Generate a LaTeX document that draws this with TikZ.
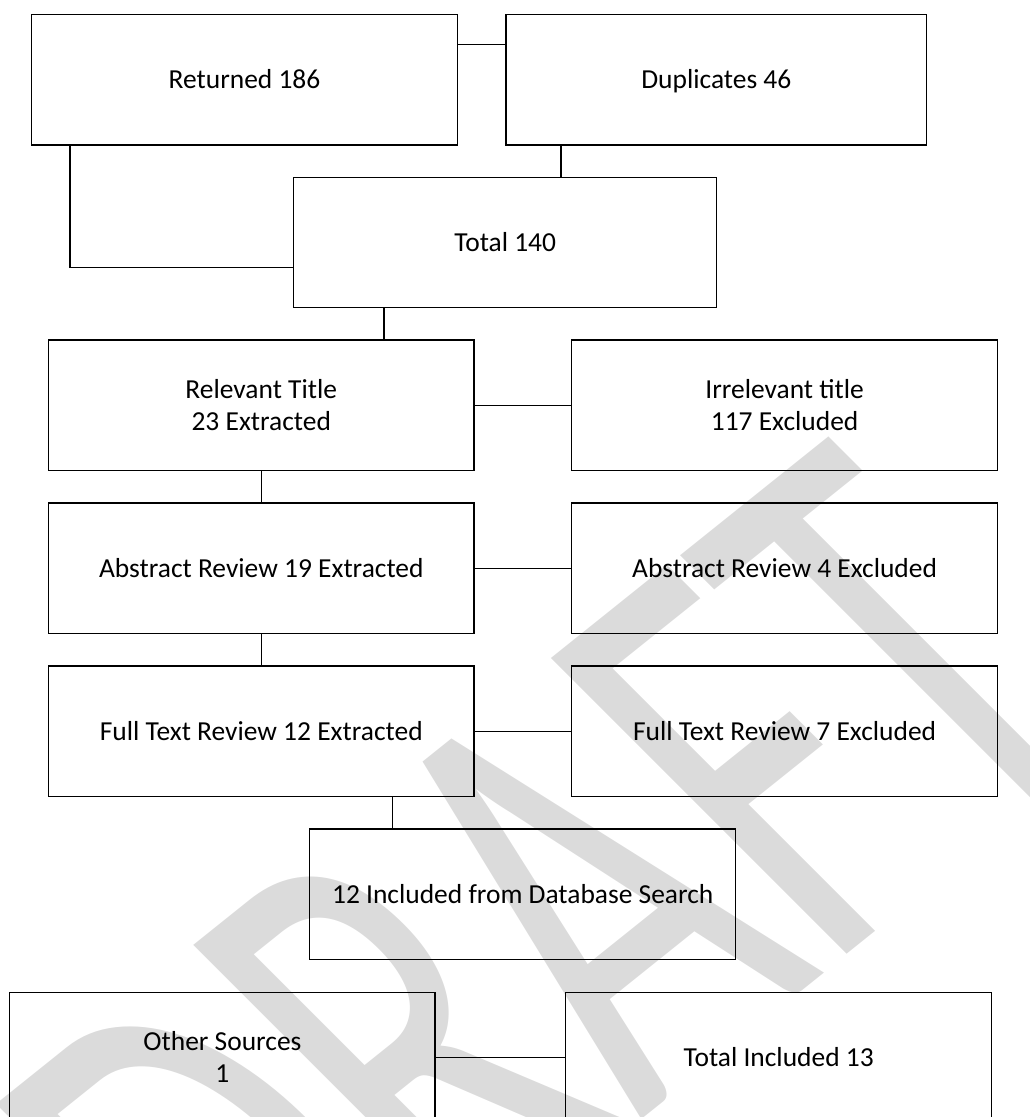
\documentclass[tikz,border=0pt]{standalone}
\usepackage{fontspec}
\setmainfont{Carlito}
\definecolor{wm}{RGB}{219,219,219}
\newcommand{\mystrut}{\rule[-3.8pt]{0pt}{20.8pt}}
\begin{document}
\begin{tikzpicture}[x=0.75pt,y=-0.75pt,
  box/.style={draw=black, line width=1pt, rectangle, inner sep=0pt, align=center,
    minimum height=98pt, font=\fontsize{20.6}{23.8}\selectfont},
  conn/.style={draw=black, line width=1pt}]
\useasboundingbox (0,0) rectangle (1029,1117);
\clip (0,0) rectangle (1029,1117);
% watermark
\node[anchor=base west, inner sep=0pt, outer sep=0pt, text=wm,
  cm={0.4906,0.3931,-0.707,0.707,(0,0)},
  font=\fontsize{489}{489}\selectfont] (wmk) at (270,1417) {DRAFT};
% boxes
\node[box, minimum width=319.2pt] (ret) at (244.5,79.5) {\mystrut Returned 186};
\node[box, minimum width=315.5pt] (dup) at (716.35,79.5) {\mystrut Duplicates 46};
\node[box, minimum width=317.3pt, minimum height=97.2pt] (tot) at (505.2,242.5) {\mystrut Total 140};
\node[box, minimum width=319pt] (rel) at (261.25,405.35) {\mystrut Relevant Title\\\mystrut 23 Extracted};
\node[box, minimum width=319.5pt] (irr) at (784.6,405.35) {\mystrut Irrelevant title\\\mystrut 117 Excluded};
\node[box, minimum width=319pt] (abs) at (261.25,568.35) {\mystrut Abstract Review 19 Extracted};
\node[box, minimum width=319.5pt] (absx) at (784.6,568.35) {\mystrut Abstract Review 4 Excluded};
\node[box, minimum width=319pt] (ful) at (261.25,731.35) {\mystrut Full Text Review 12 Extracted};
\node[box, minimum width=319.5pt] (fulx) at (784.6,731.35) {\mystrut Full Text Review 7 Excluded};
\node[box, minimum width=319.4pt] (inc) at (522.75,894.35) {\mystrut 12 Included from Database Search};
\node[box, minimum width=319pt] (oth) at (222.45,1057.65) {\mystrut Other Sources\\\mystrut 1};
\node[box, minimum width=319.5pt] (totinc) at (778.7,1057.65) {\mystrut Total Included 13};
% helper coordinates
\coordinate (yA) at (0,44.3);
\coordinate (xA) at (70,0);
\coordinate (yB) at (0,267.7);
\coordinate (xB) at (561,0);
\coordinate (xC) at (384,0);
\coordinate (xD) at (392.5,0);
% connectors
\draw[conn] (ret.east |- yA) -- (dup.west |- yA);
\draw[conn] (ret.south -| xA) |- (tot.west |- yB);
\draw[conn] (dup.south -| xB) -- (tot.north -| xB);
\draw[conn] (tot.south -| xC) -- (rel.north -| xC);
\draw[conn] (rel.east) -- (irr.west);
\draw[conn] (rel.south) -- (abs.north);
\draw[conn] (abs.east) -- (absx.west);
\draw[conn] (abs.south) -- (ful.north);
\draw[conn] (ful.east) -- (fulx.west);
\draw[conn] (ful.south -| xD) -- (inc.north -| xD);
\draw[conn] (oth.east) -- (totinc.west);
\end{tikzpicture}
\end{document}
